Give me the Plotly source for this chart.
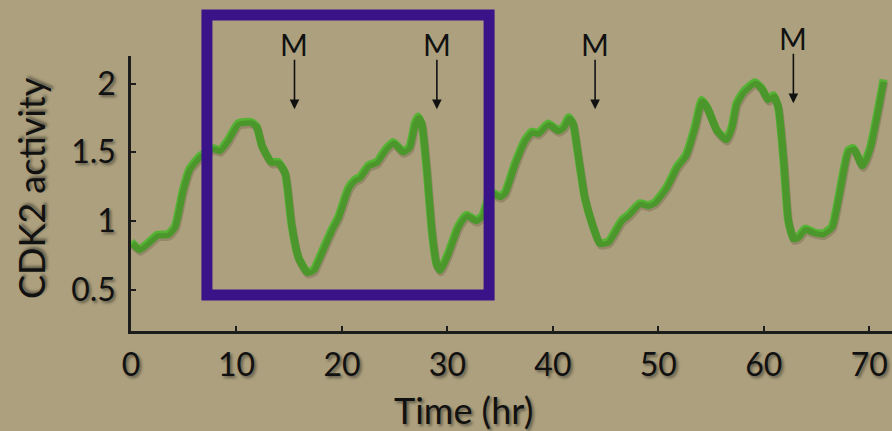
import plotly.graph_objects as go

# CDK2 activity trace over time
time_hr = [0.0, 0.8, 1.6, 2.5, 3.5, 4.15, 4.9, 5.55, 6.5, 7.8, 8.4, 9.2, 10.15,
           11.4, 11.9, 12.4, 13.3, 13.95, 14.6, 15.2, 15.85, 16.7, 17.3, 17.75,
           19.0, 19.65, 20.6, 21.2, 21.7, 22.5, 23.3, 24.05, 24.85, 25.8, 26.4,
           26.9, 27.2, 27.55, 28.0, 28.5, 28.95, 29.3, 30.05, 31.0, 31.8, 32.75,
           33.3, 34.0, 34.2, 35.0, 35.45, 36.4, 37.35, 38.0, 38.6, 39.55, 40.5,
           41.0, 41.5, 41.9, 42.4, 43.0, 43.8, 44.45, 45.25, 46.5, 47.15, 48.25,
           49.05, 49.7, 50.8, 51.75, 52.6, 53.45, 54.1, 54.6, 55.55, 56.45,
           56.95, 57.4, 58.05, 59.15, 59.8, 60.4, 60.9, 61.35, 61.85, 62.3, 62.8,
           63.25, 63.9, 64.7, 65.65, 66.45, 67.2, 68.0, 68.5, 69.35, 70.05, 71.35]
cdk2 = [0.85, 0.795, 0.84, 0.90, 0.905, 0.96, 1.22, 1.38, 1.47, 1.53, 1.515,
        1.59, 1.71, 1.72, 1.69, 1.55, 1.43, 1.43, 1.35, 0.98, 0.74, 0.63, 0.645,
        0.715, 0.935, 1.03, 1.24, 1.30, 1.32, 1.405, 1.43, 1.515, 1.575, 1.505,
        1.54, 1.71, 1.76, 1.71, 1.395, 0.935, 0.69, 0.645, 0.765, 0.96, 1.045,
        1.005, 1.04, 1.20, 1.21, 1.18, 1.21, 1.42, 1.59, 1.65, 1.64, 1.71, 1.66,
        1.685, 1.755, 1.71, 1.47, 1.175, 0.96, 0.84, 0.85, 1.005, 1.045, 1.13,
        1.115, 1.14, 1.25, 1.395, 1.48, 1.685, 1.88, 1.83, 1.66, 1.595, 1.685,
        1.855, 1.94, 2.01, 1.965, 1.885, 1.915, 1.83, 1.445, 1.005, 0.875,
        0.885, 0.945, 0.92, 0.91, 0.96, 1.225, 1.515, 1.53, 1.405, 1.53, 2.03]

# Mitosis markers: time, arrow tip, arrow tail
mitosis_t = [15.5, 29.0, 44.0, 62.8]
mitosis_tip = [1.813, 1.813, 1.813, 1.857]
mitosis_tail = [2.184, 2.184, 2.184, 2.228]

# highlighted window
box_t = [7.2, 33.95]

x_ticks = [0, 10, 20, 30, 40, 50, 60, 70]
y_ticks = [0.5, 1, 1.5, 2]

X_RANGE = [0, 72.15]
Y_RANGE = [0.2, 2.2]

W, H = 892, 431
ML, MR, MT, MB = 131, 0, 56, 100
plot_w = W - ML - MR
plot_h = H - MT - MB

BG = "#ACA07E"
GREEN = "#55B334"
PURPLE = "#3B1389"
INK = "#1c1c1c"
FONT = "Lato, 'Open Sans', sans-serif"
SHADOW = "2px 2px 3px rgba(0,0,0,0.45)"

# shadow offset in pixels converted to axis units
dx = 1.0 * (X_RANGE[1] - X_RANGE[0]) / plot_w
dy = 2.5 * (Y_RANGE[1] - Y_RANGE[0]) / plot_h


def to_paper_y(v):
    return (v - Y_RANGE[0]) / (Y_RANGE[1] - Y_RANGE[0])


fig = go.Figure()

# soft shadow under the line, drawn on shifted overlay axes
fig.add_trace(go.Scatter(
    x=time_hr, y=cdk2, mode="lines", xaxis="x2", yaxis="y2",
    line=dict(color="rgba(40,30,10,0.18)", width=8, shape="spline", smoothing=0.5),
    hoverinfo="skip", showlegend=False))

fig.add_trace(go.Scatter(
    x=time_hr, y=cdk2, mode="lines",
    line=dict(color=GREEN, width=8, shape="spline", smoothing=0.5),
    showlegend=False))

tick_font = dict(family=FONT, size=32, color="#111", shadow=SHADOW)

fig.update_layout(
    width=W, height=H,
    margin=dict(l=ML, r=MR, t=MT, b=MB),
    paper_bgcolor=BG, plot_bgcolor=BG,
    xaxis=dict(range=X_RANGE, tickvals=x_ticks, ticks="inside", ticklen=5,
               tickwidth=2, tickcolor=INK, showline=True, linewidth=2.5,
               linecolor=INK, showgrid=False, zeroline=False,
               tickfont=tick_font, ticklabelstandoff=4),
    yaxis=dict(range=Y_RANGE, tickvals=y_ticks, ticktext=["0.5", "1", "1.5", "2"],
               ticks="inside", ticklen=5, tickwidth=2, tickcolor=INK,
               showline=True, linewidth=2.5, linecolor=INK, showgrid=False,
               zeroline=False, tickfont=tick_font, ticklabelstandoff=6),
    xaxis2=dict(range=[X_RANGE[0] - dx, X_RANGE[1] - dx], overlaying="x",
                visible=False),
    yaxis2=dict(range=[Y_RANGE[0] + dy, Y_RANGE[1] + dy], overlaying="y",
                visible=False),
)

# axis titles
fig.add_annotation(text="Time (hr)", xref="paper", yref="paper",
                   x=(463 - ML) / plot_w, y=-(410 - MT - plot_h) / plot_h,
                   showarrow=False, xanchor="center", yanchor="middle",
                   font=dict(family=FONT, size=36, color="#111", shadow=SHADOW))
fig.add_annotation(text="CDK2 activity", xref="paper", yref="paper",
                   x=(31 - ML) / plot_w, y=(MT + plot_h - 188) / plot_h,
                   showarrow=False, textangle=-90, xanchor="center",
                   yanchor="middle",
                   font=dict(family=FONT, size=36, color="#111", shadow=SHADOW))

# M arrows
for t, tip, tail in zip(mitosis_t, mitosis_tip, mitosis_tail):
    fig.add_annotation(x=t, y=tip, ax=t, ay=tail, xref="x", yref="y",
                       axref="x", ayref="y", text="", showarrow=True,
                       arrowhead=2, arrowsize=1.2, arrowwidth=1.6,
                       arrowcolor="#111")
    fig.add_annotation(x=t, y=to_paper_y(tail), xref="x", yref="paper",
                       text="M", showarrow=False, xanchor="center",
                       yanchor="bottom", yshift=-6,
                       font=dict(family=FONT, size=30, color="#111"))

# highlight box around the first two cycles
box_top = (MT + plot_h - 15) / plot_h
box_bot = (MT + plot_h - 295) / plot_h
fig.add_shape(type="rect", xref="x", yref="paper",
              x0=box_t[0], x1=box_t[1], y0=box_bot, y1=box_top,
              line=dict(color=PURPLE, width=11), layer="above")

fig.write_html("out.html")
